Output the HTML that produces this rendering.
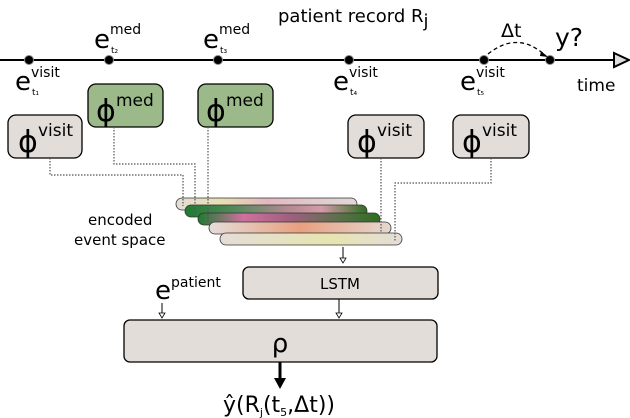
<!DOCTYPE html>
<html><head><style>
html,body{margin:0;padding:0;background:#fff;}
svg{display:block;font-family:"DejaVu Sans","Liberation Sans",sans-serif;}
</style></head><body>
<svg width="630" height="418" viewBox="0 0 630 418" xmlns="http://www.w3.org/2000/svg">
<defs>
<linearGradient id="g1" x1="0" x2="1"><stop offset="0" stop-color="#e4ddd8"/><stop offset="0.25" stop-color="#e6e0b0"/><stop offset="0.5" stop-color="#e2b8c0"/><stop offset="1" stop-color="#e0d8d6"/></linearGradient>
<linearGradient id="g2" x1="0" x2="1"><stop offset="0" stop-color="#1e7a30"/><stop offset="0.3" stop-color="#5a8a60"/><stop offset="0.55" stop-color="#b08890"/><stop offset="0.75" stop-color="#d49aa8"/><stop offset="1" stop-color="#2e6e20"/></linearGradient>
<linearGradient id="g3" x1="0" x2="1"><stop offset="0" stop-color="#1e7a30"/><stop offset="0.25" stop-color="#d070a0"/><stop offset="0.5" stop-color="#a06080"/><stop offset="0.75" stop-color="#607050"/><stop offset="1" stop-color="#2e6e20"/></linearGradient>
<linearGradient id="g4" x1="0" x2="1"><stop offset="0" stop-color="#e4ddd8"/><stop offset="0.5" stop-color="#e8a080"/><stop offset="1" stop-color="#e4d8d0"/></linearGradient>
<linearGradient id="g5" x1="0" x2="1"><stop offset="0" stop-color="#e4ddd8"/><stop offset="0.6" stop-color="#e6e4b0"/><stop offset="1" stop-color="#e4ddd8"/></linearGradient>
</defs>
<line x1="0" y1="60" x2="616" y2="60" stroke="#000" stroke-width="2"/>
<polygon points="614,53 629,60 614,67" fill="#ddd" stroke="#000" stroke-width="2"/>
<g fill="#000" stroke="#888" stroke-width="1">
<circle cx="29" cy="60" r="4.5"/><circle cx="109" cy="60" r="4.5"/><circle cx="218" cy="60" r="4.5"/>
<circle cx="349" cy="60" r="4.5"/><circle cx="484" cy="60" r="4.5"/><circle cx="550" cy="60" r="4.5"/>
</g>
<path d="M488,54 Q518,30 546,56" fill="none" stroke="#000" stroke-width="1.3" stroke-dasharray="4,3"/>
<polygon points="541,51 548,57 540,56" fill="#000"/>
<text x="278" y="22" font-size="18">patient record R<tspan dy="5">j</tspan></text>
<text x="501" y="37" font-size="19">Δt</text>
<text x="555" y="46" font-size="25">y?</text>
<text x="577" y="91" font-size="17">time</text>
<g font-size="26">
<text x="94" y="48">e</text><text x="203" y="48">e</text>
<text x="15" y="90">e</text><text x="333" y="90">e</text><text x="460" y="90">e</text>
</g>
<g font-size="14">
<text x="110" y="34">med</text><text x="219" y="34">med</text>
<text x="31" y="77">visit</text><text x="349" y="77">visit</text><text x="476" y="77">visit</text>
</g>
<g font-size="9">
<text x="111" y="53">t₂</text><text x="220" y="53">t₃</text>
<text x="32" y="95">t₁</text><text x="350" y="95">t₄</text><text x="477" y="95">t₅</text>
</g>
<g stroke="#000" stroke-width="1.3">
<rect x="8" y="115" width="74" height="43" rx="8" fill="#e3ddd9"/>
<rect x="88" y="84" width="75" height="43" rx="8" fill="#9bb989"/>
<rect x="198" y="84" width="75" height="43" rx="8" fill="#9bb989"/>
<rect x="348" y="115" width="76" height="43" rx="8" fill="#e3ddd9"/>
<rect x="453" y="115" width="76" height="43" rx="8" fill="#e3ddd9"/>
</g>
<g font-size="30"><text x="18" y="152">ϕ</text><text x="96" y="121">ϕ</text><text x="206" y="121">ϕ</text><text x="357" y="152">ϕ</text><text x="462" y="152">ϕ</text></g>
<g font-size="17"><text x="38" y="136">visit</text><text x="116" y="106">med</text><text x="226" y="106">med</text><text x="377" y="136">visit</text><text x="482" y="136">visit</text></g>
<g stroke="#333" stroke-width="0.8">
<rect x="176" y="198" width="181" height="12" rx="6" fill="url(#g1)"/>
<rect x="185" y="205" width="182" height="12" rx="6" fill="url(#g2)"/>
<rect x="198" y="213" width="182" height="12" rx="6" fill="url(#g3)"/>
<rect x="209" y="222" width="182" height="12" rx="6" fill="url(#g4)"/>
<rect x="220" y="233" width="182" height="12" rx="6" fill="url(#g5)"/>
</g>
<g fill="none" stroke="#555" stroke-width="1.2" stroke-dasharray="1.5,1.5">
<path d="M50,158 V175 H183 V206"/>
<path d="M114,127 V164 H195 V214"/>
<path d="M208,127 V222"/>
<path d="M381,158 V232"/>
<path d="M491,158 V183 H395 V242"/>
</g>
<text x="88" y="225" font-size="15">encoded</text>
<text x="74" y="245" font-size="15">event space</text>
<line x1="343" y1="247" x2="343" y2="261" stroke="#000"/>
<polygon points="340,258 343,263 346,258" fill="#fff" stroke="#000" stroke-width="0.8"/>
<rect x="243" y="267" width="195" height="32" rx="6" fill="#e3ddd9" stroke="#000" stroke-width="1.3"/>
<text x="340" y="289" font-size="15" text-anchor="middle">LSTM</text>
<text x="155" y="299" font-size="26">e</text>
<text x="171" y="287" font-size="14">patient</text>
<line x1="162" y1="303" x2="162" y2="316" stroke="#000"/>
<polygon points="159,313 162,318 165,313" fill="#fff" stroke="#000" stroke-width="0.8"/>
<line x1="339" y1="299" x2="339" y2="316" stroke="#000"/>
<polygon points="336,313 339,318 342,313" fill="#fff" stroke="#000" stroke-width="0.8"/>
<rect x="124" y="320" width="313" height="42" rx="6" fill="#e3ddd9" stroke="#000" stroke-width="1.3"/>
<text x="280" y="352" font-size="26" text-anchor="middle">ρ</text>
<line x1="280" y1="362" x2="280" y2="380" stroke="#000" stroke-width="3"/>
<polygon points="274,378 280,389 286,378" fill="#000"/>
<text x="223" y="412" font-size="22">ŷ(R<tspan font-size="11" dy="4">j</tspan><tspan dy="-4">(t</tspan><tspan font-size="11" dy="4">5</tspan><tspan dy="-4">,Δt))</tspan></text>
</svg>
</body></html>
